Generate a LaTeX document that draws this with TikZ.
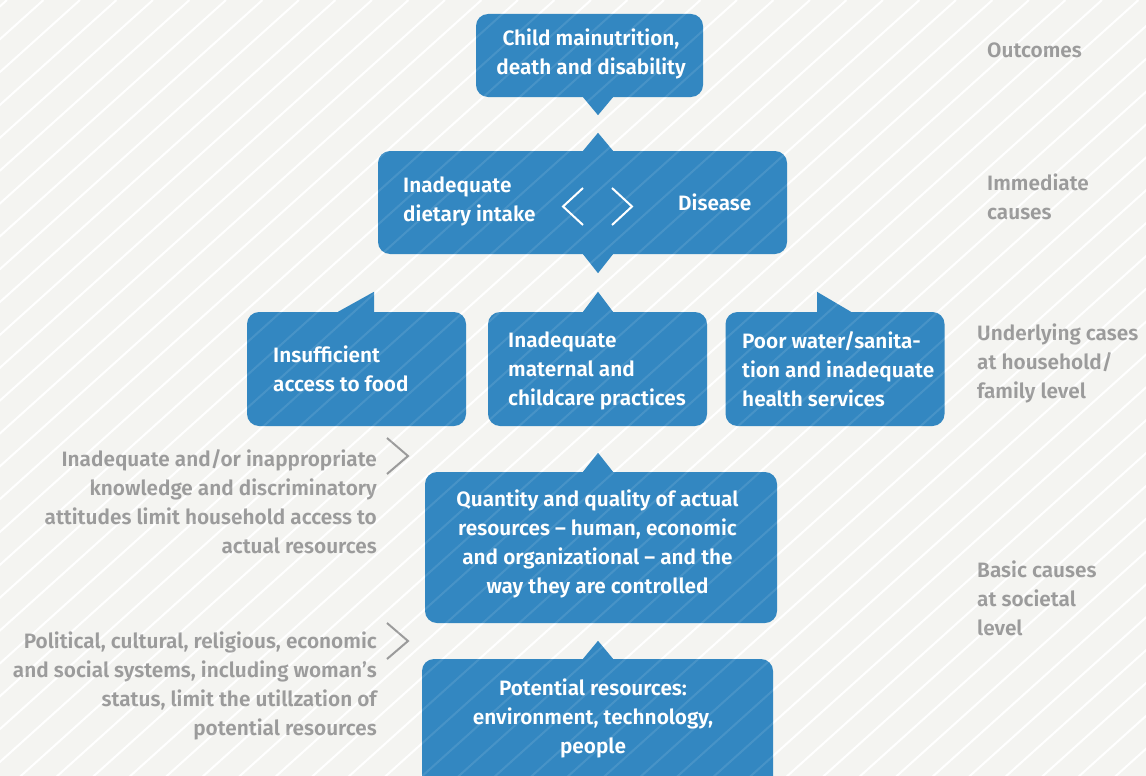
\documentclass[tikz,border=0pt]{standalone}
\usepackage{fontspec}
\setmainfont{Fira Sans}[BoldFont={Fira Sans SemiBold}]
\usetikzlibrary{positioning}

\definecolor{boxblue}{HTML}{3387C1}
\definecolor{paper}{HTML}{F4F4F1}
\definecolor{labelgrey}{HTML}{9B9B9B}

\newcommand{\hatchlines}{%
  \foreach \c in {7,43.5,...,2200}
    \draw (\c,0) -- ++(-1000,900);}

\begin{document}
\begin{tikzpicture}[x=1pt,y=-1pt,
  box/.style={fill=boxblue,rounded corners=12pt,inner sep=0pt},
  boxtext/.style={text=white,font=\fontsize{20.8}{29}\selectfont\bfseries,inner sep=0pt},
  sidetext/.style={text=labelgrey,font=\fontsize{20.8}{29}\selectfont\bfseries,inner sep=0pt},
  chev/.style={line width=2pt,line join=miter}]
\useasboundingbox (0,0) rectangle (1146,776);
\clip (0,0) rectangle (1146,776);
\fill [paper] (0,0) rectangle (1146,776);
\begin{scope}[white,line width=2pt]
  \hatchlines
\end{scope}

\coordinate (tailx) at (598,0);

% boxes
\node [box,minimum width=227pt,minimum height=83pt] (outcome) at (589.5,55.5) {};
\node [box,minimum width=409pt,minimum height=103pt] (immediate) at (582.5,202.5) {};
\node [box,minimum width=219pt,minimum height=114pt] (food) at (356.5,369) {};
\node [box,minimum width=219pt,minimum height=114pt] (care) at (597.5,369) {};
\node [box,minimum width=219pt,minimum height=114pt] (water) at (835,369) {};
\node [box,minimum width=352pt,minimum height=151pt] (actual) at (601,547.5) {};
\node [box,minimum width=351pt,minimum height=131pt] (potential) at (597.5,724.5) {};

% tails
\fill [boxblue] ([xshift=-15pt]tailx |- outcome.south) -- ++(15,18) -- ++(15,-18) -- cycle;
\fill [boxblue] ([xshift=-15pt]tailx |- immediate.north) -- ++(15,-18) -- ++(15,18) -- cycle;
\fill [boxblue] ([xshift=-15pt]tailx |- immediate.south) -- ++(15,19) -- ++(15,-19) -- cycle;
\fill [boxblue] ([xshift=-36pt]374,0 |- food.north) -- ++(36,-20) -- ++(0,20) -- cycle;
\fill [boxblue] ([xshift=-15pt]tailx |- care.north) -- ++(15,-20) -- ++(15,20) -- cycle;
\fill [boxblue] (817,0 |- water.north) -- ++(0,-20) -- ++(34,20) -- cycle;
\fill [boxblue] ([xshift=-15pt]tailx |- actual.north) -- ++(15,-19) -- ++(15,19) -- cycle;
\fill [boxblue] ([xshift=-15pt]tailx |- potential.north) -- ++(15,-18) -- ++(15,18) -- cycle;

% box texts
\node [boxtext,align=center] (outcometext) at (591,54) {Child mainutrition,\\death and disability};
\node [boxtext,align=left,anchor=west] (intake) at (403,201) {Inadequate\\dietary intake};
\node [boxtext,anchor=west] (disease) at (678,202) {Disease};
\draw [chev,white] (583,188) -- (563,206.5) -- (583,225);
\draw [chev,white] (612,188) -- (632,206.5) -- (612,225);
\node [boxtext,align=left,anchor=west] (foodtext) at (273,369) {Insufficient\\access to food};
\node [boxtext,align=left,anchor=west] (caretext) at (508,371) {Inadequate\\maternal and\\childcare practices};
\node [boxtext,align=left,anchor=west] (watertext) at (742,369) {Poor water/sanita-\\tion and inadequate\\health services};
\node [boxtext,align=center] (actualtext) at (597.5,544) {Quantity and quality of actual\\resources – human, economic\\and organizational – and the\\way they are controlled};
\node [boxtext,align=center] (potentialtext) at (593,718) {Potential resources:\\environment, technology,\\people};

% grey notes on the left
\node [sidetext,align=right,anchor=east] (knowledge) at (377,501.5) {Inadequate and/or inappropriate\\knowledge and discriminatory\\attitudes limit household access to\\actual resources};
\node [sidetext,align=right,anchor=east] (systems) at (377,686) {Political, cultural, religious, economic\\and social systems, including woman’s\\status, limit the utillzation of\\potential resources};
\draw [chev,labelgrey] (387,438) -- (408,456) -- (387,474);
\draw [chev,labelgrey] (387,623) -- (408,641) -- (387,659);

% level labels
\node [sidetext,anchor=west] (lvloutcome) at (987,50) {Outcomes};
\node [sidetext,align=left,anchor=west] (lvlimmediate) at (987,196.5) {Immediate\\causes};
\node [sidetext,align=left,anchor=west] (lvlunderlying) at (977,363.5) {Underlying cases\\at household/\\family level};
\node [sidetext,align=left,anchor=west] (lvlbasic) at (977,598) {Basic causes\\at societal\\level};

\begin{scope}[white,line width=2pt,opacity=0.1]
  \hatchlines
\end{scope}
\end{tikzpicture}
\end{document}
